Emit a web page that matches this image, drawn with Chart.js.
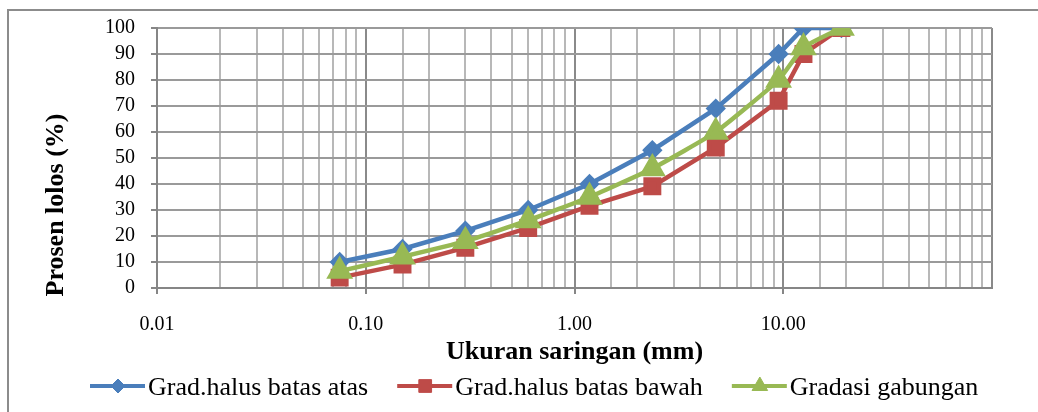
<!DOCTYPE html>
<html>
<head>
<meta charset="utf-8">
<script src="https://cdn.jsdelivr.net/npm/chart.js@4.4.1/dist/chart.umd.min.js"></script>
<style>
  html, body { margin: 0; padding: 0; background: #fff; }
  #wrap { position: relative; width: 1038px; height: 412px; overflow: hidden; }
  #frame { position: absolute; left: 7px; top: 9px; width: 1100px; height: 500px; border: 2px solid #8c8c8c; box-sizing: border-box; }
  #chart { position: absolute; left: 0; top: 0; }
</style>
</head>
<body>
<div id="wrap">
  <div id="frame"></div>
  <canvas id="chart" width="1038" height="412"></canvas>
</div>
<script>
// sieve sizes (mm) and percent passing
const sieveSizes = [0.075, 0.15, 0.3, 0.6, 1.18, 2.36, 4.75, 9.5, 12.5, 19];
const upperLimit = [10, 15, 22, 30, 40, 53, 69, 90, 100, 100];
const lowerLimit = [4, 9, 15.5, 23.1, 31.6, 39.1, 54, 72, 90, 100];
const combined = [6.5, 12, 18, 26, 35, 46, 60, 80, 92.5, 100];
const seriesNames = ['Grad.halus batas atas', 'Grad.halus batas bawah', 'Gradasi gabungan'];
const xTickLabels = ['0.01', '0.10', '1.00', '10.00'];
const yTitle = 'Prosen lolos (%)';

const serif = '"Liberation Serif", "Times New Roman", serif';

function toPoints(values) {
  return sieveSizes.map((s, i) => ({ x: s, y: values[i] }));
}

function isDecade(v) {
  const l = Math.log10(v);
  return Math.abs(l - Math.round(l)) < 1e-9;
}

// Excel-like legend (short line with marker) and the y title,
// which Excel centres lower than the plot area
const extras = {
  id: 'extras',
  afterDraw(chart) {
    const ctx = chart.ctx;
    ctx.save();

    ctx.translate(56, 205);
    ctx.rotate(-Math.PI / 2);
    ctx.font = 'bold 26px ' + serif;
    ctx.fillStyle = '#000';
    ctx.textAlign = 'center';
    ctx.textBaseline = 'middle';
    ctx.fillText(yTitle, 0, 0);
    ctx.setTransform(1, 0, 0, 1, 0, 0);

    const y = 386;
    let x = 90;
    ctx.font = '26px ' + serif;
    ctx.textAlign = 'left';
    chart.data.datasets.forEach(ds => {
      ctx.strokeStyle = ds.borderColor;
      ctx.lineWidth = 4;
      ctx.beginPath();
      ctx.moveTo(x, y);
      ctx.lineTo(x + 55, y);
      ctx.stroke();
      ctx.fillStyle = ds.pointBackgroundColor;
      ctx.strokeStyle = ds.pointBackgroundColor;
      ctx.lineWidth = 1;
      Chart.helpers.drawPoint(ctx, {
        pointStyle: ds.pointStyle,
        radius: ds.legendRadius,
        rotation: 0,
        borderWidth: 1
      }, x + 28, y);
      ctx.fillStyle = '#000';
      ctx.fillText(ds.label, x + 58, y + 2);
      x += 58 + ctx.measureText(ds.label).width + 29;
    });
    ctx.restore();
  }
};

new Chart(document.getElementById('chart'), {
  type: 'line',
  data: {
    datasets: [
      {
        label: seriesNames[0],
        data: toPoints(upperLimit),
        borderColor: '#4A7EBB',
        pointBackgroundColor: '#4A7EBB',
        pointBorderColor: '#4A7EBB',
        pointStyle: 'rectRot',
        pointRadius: 7,
        legendRadius: 7,
        borderWidth: 4.5,
        tension: 0,
        order: 2
      },
      {
        label: seriesNames[1],
        data: toPoints(lowerLimit),
        borderColor: '#BE4B48',
        pointBackgroundColor: '#BE4B48',
        pointBorderColor: '#BE4B48',
        pointStyle: 'rect',
        pointRadius: 9.5,
        legendRadius: 9,
        borderWidth: 4.5,
        tension: 0,
        order: 1
      },
      {
        label: seriesNames[2],
        data: toPoints(combined),
        borderColor: '#98B954',
        pointBackgroundColor: '#98B954',
        pointBorderColor: '#98B954',
        pointStyle: 'triangle',
        pointRadius: 11,
        legendRadius: 9,
        borderWidth: 4.5,
        tension: 0.15,
        order: 0
      }
    ]
  },
  options: {
    responsive: false,
    animation: false,
    layout: { padding: { left: 40, right: 46, top: 27, bottom: 44 } },
    plugins: {
      legend: { display: false },
      tooltip: { enabled: false }
    },
    scales: {
      x: {
        type: 'logarithmic',
        min: 0.01,
        max: 100,
        border: { color: '#868686', width: 2 },
        grid: {
          color: ctx => isDecade(ctx.tick.value) ? '#8a8a8a' : '#b8b8b8',
          lineWidth: 2,
          tickColor: ctx => isDecade(ctx.tick.value) && ctx.tick.value < 100 ? '#868686' : 'rgba(0,0,0,0)',
          tickLength: 6,
          drawTicks: true
        },
        ticks: {
          autoSkip: false,
          maxRotation: 0,
          padding: 19,
          color: '#000',
          font: { family: serif, size: 20 },
          callback: function (value) {
            if (!isDecade(value)) return '';
            const i = Math.round(Math.log10(value)) + 2;
            return xTickLabels[i] || '';
          }
        },
        title: {
          display: true,
          text: 'Ukuran saringan (mm)',
          color: '#000',
          font: { family: serif, size: 26, weight: 'bold' },
          padding: { top: 0, bottom: 0 }
        },
        afterFit: scale => { scale.height = 80; }
      },
      y: {
        min: 0,
        max: 100,
        border: { color: '#868686', width: 2 },
        grid: {
          color: '#9a9a9a',
          lineWidth: 2,
          tickColor: '#868686',
          tickLength: 6
        },
        ticks: {
          stepSize: 10,
          autoSkip: false,
          padding: 16,
          color: '#000',
          font: { family: serif, size: 20 }
        },
        afterFit: scale => { scale.width = 117; }
      }
    }
  },
  plugins: [extras]
});
</script>
</body>
</html>
